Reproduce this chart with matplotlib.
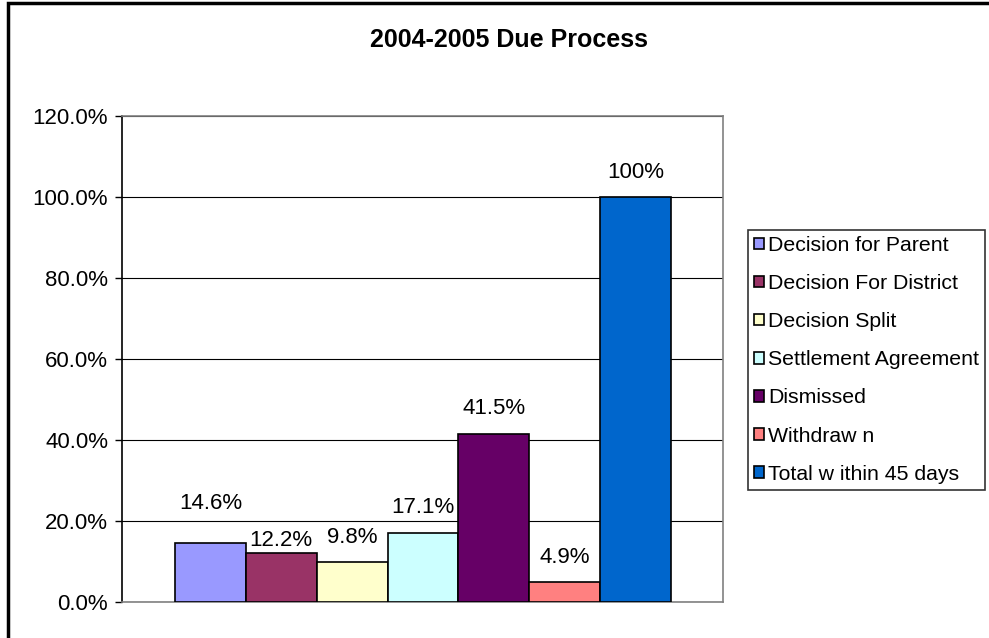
import matplotlib.pyplot as plt
import matplotlib.patches as mpatches
import numpy as np

plt.rcParams['font.family'] = ['Liberation Sans', 'DejaVu Sans']

categories = ['Decision for Parent', 'Decision For District', 'Decision Split',
              'Settlement Agreement', 'Dismissed', 'Withdraw n', 'Total w ithin 45 days']
values = [14.6, 12.2, 9.8, 17.1, 41.5, 4.9, 100.0]
labels = ['14.6%', '12.2%', '9.8%', '17.1%', '41.5%', '4.9%', '100%']
colors = ['#9999FF', '#993366', '#FFFFCC', '#CCFFFF', '#660066', '#FF8080', '#0066CC']
# label offset above bar top, in pixels
label_px = [39, 12, 25, 25, 25, 25, 25]

fig = plt.figure(figsize=(9.89, 6.38), dpi=100)
# outer chart frame
fig.patches.append(mpatches.Rectangle((8/989, -0.1), 1.2, 1 - 3/638 + 0.1,
                                      transform=fig.transFigure, fill=False,
                                      edgecolor='black', linewidth=2.5))

ax = fig.add_axes([122/989, 1 - 602/638, (723-122)/989, (602-116)/638])
unit_per_px = 120 / 486

x = np.arange(len(values))
for i in range(len(values)):
    ax.bar(x[i], values[i], width=1.0, color=colors[i], edgecolor='black',
           linewidth=1.2, label=categories[i], zorder=3)
    ax.text(x[i], values[i] + label_px[i] * unit_per_px, labels[i],
            ha='center', va='center', fontsize=16)

ax.set_ylim(0, 120)
ax.set_xlim(-0.5 - 53/71, 6.5 + 52/71)
ax.set_yticks(np.arange(0, 121, 20))
ax.set_yticklabels(['%.1f%%' % v for v in np.arange(0, 121, 20)], fontsize=16)
ax.set_xticks([])
ax.yaxis.grid(True, color='black', linewidth=0.8, zorder=0)
ax.tick_params(axis='y', length=5, width=1, direction='out', pad=5)
ax.spines['left'].set_color('black')
ax.spines['bottom'].set_color('#808080')
ax.spines['top'].set_color('#808080')
ax.spines['right'].set_color('#808080')
for s in ax.spines.values():
    s.set_linewidth(1.2)

fig.text(509/989, 1 - 40/638, '2004-2005 Due Process',
         ha='center', va='center', fontsize=18, fontweight='bold')

leg = fig.legend(loc='upper left', bbox_to_anchor=(748/989, 1 - 230/638),
                 fontsize=15.3, frameon=True, fancybox=False, edgecolor='black',
                 handlelength=0.47, handleheight=0.47, handletextpad=0.2,
                 labelspacing=0.9, borderpad=0.28, borderaxespad=0)
leg.get_frame().set_linewidth(1.2)

fig.savefig('out.png', dpi=100)
